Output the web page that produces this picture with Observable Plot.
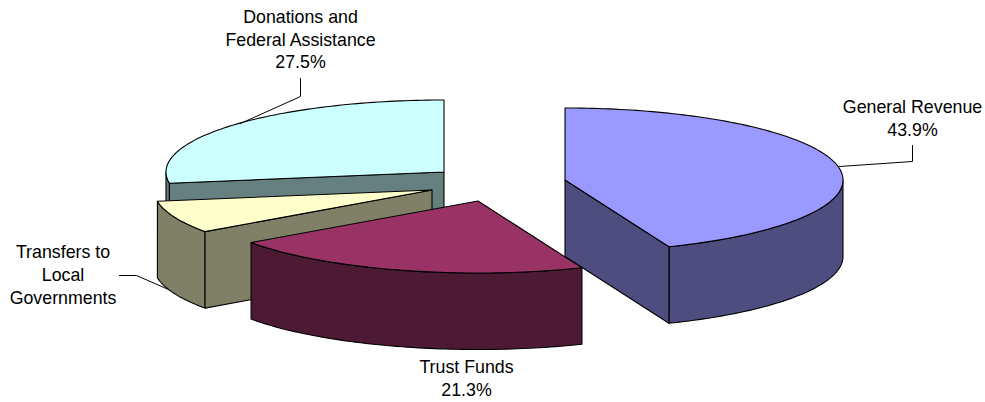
<!DOCTYPE html>
<html>
<head>
<meta charset="utf-8">
<style>html,body{margin:0;padding:0;background:#fff}svg{display:block}</style>
<script src="https://cdn.jsdelivr.net/npm/d3@7"></script>
<script src="https://cdn.jsdelivr.net/npm/@observablehq/plot@0.6"></script>
</head>
<body>
<div id="chart"></div>
<script>
// Data
const categories = ["General Revenue", "Trust Funds", "Transfers to Local Governments", "Donations and Federal Assistance"];
const shares = [43.9, 21.3, 7.3, 27.5];

// Styling and layout, separate from the data
const topColors = ["#9999FF", "#993366", "#FFFFCC", "#CCFFFF"];
const sideColors = ["#4D4D80", "#4D1A33", "#808066", "#668080"];
const apexX = [564.5, 477.5, 431.5, 443.5];
const apexY = [179.5, 200.5, 189.5, 171.5];
const drawOrder = [3, 2, 0, 1];
const rx = 278, ry = 72, depth = 76.5;

const rad = (share) => (share / 100) * 2 * Math.PI;
const rim = (i, a) => ({x: apexX[i] + rx * Math.sin(a), y: apexY[i] - ry * Math.cos(a)});
const down = (p) => ({x: p.x, y: p.y + depth});
function arc(i, a0, a1) {
  const n = Math.max(2, Math.ceil(Math.abs(a1 - a0) / 0.02));
  return d3.range(n + 1).map((k) => rim(i, a0 + (a1 - a0) * k / n));
}

// Build the visible faces of each wedge from its share of the pie
const starts = d3.cumsum([0, ...shares]);
const faces = [];
for (const i of drawOrder) {
  const a0 = rad(starts[i]), a1 = rad(starts[i + 1]);
  const apex = {x: apexX[i], y: apexY[i]};
  const add = (pts, fill) => faces.push({pts, fill});
  // Outer wall: only the front half of the rim (a between 90 and 270 degrees) faces the viewer
  const w0 = Math.max(a0, Math.PI / 2), w1 = Math.min(a1, 1.5 * Math.PI);
  if (w1 > w0) {
    const top = arc(i, w0, w1);
    add([...top, ...top.slice().reverse().map(down)], sideColors[i]);
  }
  // Cut walls that face the viewer
  const endPt = rim(i, a1), startPt = rim(i, a0);
  if (a1 < Math.PI) add([apex, endPt, down(endPt), down(apex)], sideColors[i]);
  if (a0 > Math.PI) add([apex, startPt, down(startPt), down(apex)], sideColors[i]);
  // Top face
  add([apex, ...arc(i, a0, a1)], topColors[i]);
}

const leaders = [
  [[300, 78], [300, 96], [240, 123]],
  [[912, 145], [912, 161], [839, 166]],
  [[119, 275], [136, 275], [168, 289]]
];
const labels = [
  {x: 912, y: 107, t: "General Revenue"},
  {x: 912, y: 130, t: "43.9%"},
  {x: 466, y: 367, t: "Trust Funds"},
  {x: 466, y: 390, t: "21.3%"},
  {x: 62.5, y: 252, t: "Transfers to"},
  {x: 62.5, y: 275, t: "Local"},
  {x: 62.5, y: 298, t: "Governments"},
  {x: 300, y: 17, t: "Donations and"},
  {x: 300, y: 40, t: "Federal Assistance"},
  {x: 300, y: 62, t: "27.5%"}
];

const chart = Plot.plot({
  width: 985,
  height: 402,
  margin: 0,
  x: {domain: [0, 985], range: [0, 985], axis: null},
  y: {domain: [0, 402], range: [0, 402], axis: null},
  marks: [
    ...faces.map((f) => Plot.line(f.pts, {
      x: "x", y: "y", curve: "linear-closed",
      fill: f.fill, stroke: "#000", strokeWidth: 1.1, strokeLinejoin: "round"
    })),
    ...leaders.map((l) => Plot.line(l, {x: (d) => d[0], y: (d) => d[1], stroke: "#000", strokeWidth: 1, curve: "linear"})),
    Plot.text(labels, {
      x: "x", y: "y", text: "t", fill: "#000", textAnchor: "middle",
      fontFamily: "Liberation Sans, Arial, sans-serif", fontSize: 17.8
    })
  ]
});
document.getElementById("chart").appendChild(chart);
</script>
</body>
</html>
